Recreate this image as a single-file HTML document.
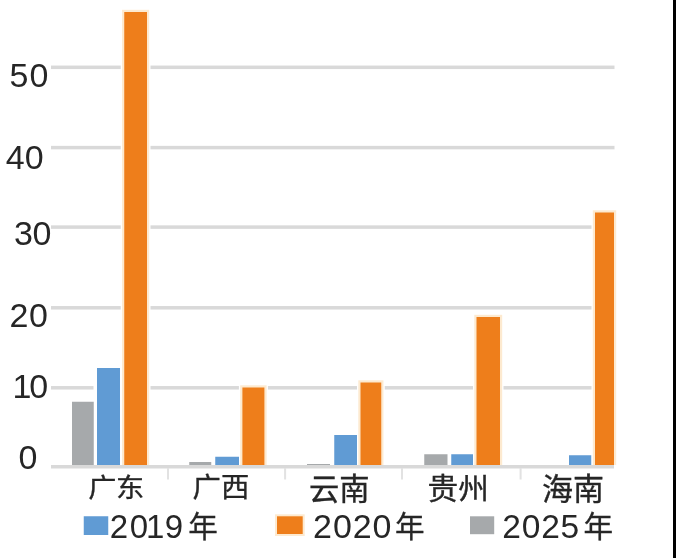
<!DOCTYPE html><html><head><meta charset="utf-8"><title>chart</title><style>
html,body{margin:0;padding:0;background:#fff}body{width:676px;height:558px;overflow:hidden;position:relative}svg{position:absolute;left:0;top:0;display:block}
.n{font-family:"Liberation Sans",sans-serif;font-size:34px;fill:#262626;letter-spacing:1.6px}
.c{font-family:"Liberation Sans","Noto Sans CJK SC",sans-serif;font-size:29px;fill:#262626;stroke:#262626;stroke-width:0.35px}
.l{font-family:"Liberation Sans","Noto Sans CJK SC",sans-serif;font-size:33px;fill:#262626;letter-spacing:1.6px}
.y{font-family:"Liberation Sans","Noto Sans CJK SC",sans-serif;font-size:29.6px;fill:#262626;stroke:#262626;stroke-width:0.3px}
</style></head><body>
<svg width="676" height="558" viewBox="0 0 676 558">
<rect x="0" y="0" width="676" height="558" fill="#fff"/>
<rect x="51" y="65.55" width="563.5" height="3.5" fill="#d9d9d9"/>
<rect x="51" y="145.85" width="563.5" height="3.5" fill="#d9d9d9"/>
<rect x="51" y="225.35" width="563.5" height="3.5" fill="#d9d9d9"/>
<rect x="51" y="306.05" width="563.5" height="3.5" fill="#d9d9d9"/>
<rect x="51" y="386.05" width="563.5" height="3.5" fill="#d9d9d9"/>
<rect x="68.50" y="398.25" width="28.75" height="66.75" fill="#fff"/>
<rect x="93.50" y="364.50" width="30.00" height="100.50" fill="#fff"/>
<rect x="120.75" y="8.50" width="29.75" height="456.50" fill="#fff"/>
<rect x="211.75" y="453.25" width="30.75" height="11.75" fill="#fff"/>
<rect x="238.90" y="384.00" width="29.00" height="81.00" fill="#fff"/>
<rect x="330.75" y="431.50" width="29.75" height="33.50" fill="#fff"/>
<rect x="357.00" y="379.00" width="27.75" height="86.00" fill="#fff"/>
<rect x="420.75" y="450.75" width="30.25" height="14.25" fill="#fff"/>
<rect x="447.75" y="450.75" width="28.75" height="14.25" fill="#fff"/>
<rect x="473.00" y="313.50" width="30.50" height="151.50" fill="#fff"/>
<rect x="565.50" y="451.75" width="29.25" height="13.25" fill="#fff"/>
<rect x="591.50" y="209.00" width="26.00" height="256.00" fill="#fff"/>
<rect x="51" y="465" width="563" height="3.5" fill="#d9d9d9"/>
<rect x="167.00" y="468" width="2" height="11.5" fill="#e2e2e2"/>
<rect x="284.10" y="468" width="2" height="11.5" fill="#e2e2e2"/>
<rect x="401.00" y="468" width="2" height="11.5" fill="#e2e2e2"/>
<rect x="519.60" y="468" width="2" height="11.5" fill="#e2e2e2"/>
<rect x="72.00" y="401.75" width="21.75" height="63.25" fill="#a6a9ab"/>
<rect x="97.00" y="368.00" width="23.00" height="97.00" fill="#609bd4"/>
<rect x="122.05" y="9.80" width="27.15" height="455.20" fill="#fdead0"/>
<rect x="124.25" y="12.00" width="22.75" height="453.00" fill="#ee7e1b"/>
<rect x="189.25" y="462.00" width="22.00" height="3.00" fill="#a6a9ab"/>
<rect x="215.25" y="456.75" width="23.75" height="8.25" fill="#609bd4"/>
<rect x="240.20" y="385.30" width="26.40" height="79.70" fill="#fdead0"/>
<rect x="242.40" y="387.50" width="22.00" height="77.50" fill="#ee7e1b"/>
<rect x="307.00" y="464.00" width="23.00" height="1.00" fill="#a6a9ab"/>
<rect x="334.25" y="435.00" width="22.75" height="30.00" fill="#609bd4"/>
<rect x="358.30" y="380.30" width="25.15" height="84.70" fill="#fdead0"/>
<rect x="360.50" y="382.50" width="20.75" height="82.50" fill="#ee7e1b"/>
<rect x="424.25" y="454.25" width="23.25" height="10.75" fill="#a6a9ab"/>
<rect x="451.25" y="454.25" width="21.75" height="10.75" fill="#609bd4"/>
<rect x="474.30" y="314.80" width="27.90" height="150.20" fill="#fdead0"/>
<rect x="476.50" y="317.00" width="23.50" height="148.00" fill="#ee7e1b"/>
<rect x="569.00" y="455.25" width="22.25" height="9.75" fill="#609bd4"/>
<rect x="592.80" y="210.30" width="23.40" height="254.70" fill="#fdead0"/>
<rect x="595.00" y="212.50" width="19.00" height="252.50" fill="#ee7e1b"/>
<rect x="673" y="0" width="3" height="558" fill="#000"/>
<text class="n" style="letter-spacing:1.10px" x="9.50" y="87.00">50</text>
<text class="n" style="letter-spacing:0.10px" x="5.75" y="169.25">40</text>
<text class="n" style="letter-spacing:-0.40px" x="14.00" y="244.75">30</text>
<text class="n" style="letter-spacing:0.60px" x="9.50" y="326.50">20</text>
<text class="n" style="letter-spacing:-2.10px" x="12.50" y="397.75">10</text>
<text class="n" style="letter-spacing:0.00px" x="18.40" y="468.90">0</text>
<text class="c" style="font-size:28.2px;letter-spacing:-0.40px" transform="translate(88.30 496.90) scale(1 0.925)">广东</text>
<text class="c" style="font-size:28.4px;letter-spacing:0.00px" transform="translate(192.60 497.30) scale(1 0.950)">广西</text>
<text class="c" style="font-size:30.3px;letter-spacing:0.00px" transform="translate(308.90 499.50) scale(1 1.000)">云南</text>
<text class="c" style="font-size:30.7px;letter-spacing:0.00px" transform="translate(427.60 498.90) scale(1 0.955)">贵州</text>
<text class="c" style="font-size:31.0px;letter-spacing:0.00px" transform="translate(542.10 500.00) scale(1 1.000)">海南</text>
<rect x="83.75" y="516.25" width="24.50" height="18.75" fill="#609bd4"/>
<text class="l" style="font-size:33.0px;letter-spacing:1.60px" x="109.70" y="538.00">20<tspan dx="-3.5">1</tspan><tspan dx="-1.2">9</tspan></text>
<text class="y" x="188.20" y="537.00">年</text>
<rect x="275.00" y="514.30" width="29.70" height="21.70" fill="#fdead0"/>
<rect x="277.00" y="516.30" width="25.70" height="17.70" fill="#ee7e1b"/>
<text class="l" style="font-size:34.0px;letter-spacing:0.90px" x="313.10" y="538.00">2020</text>
<text class="y" x="395.10" y="537.00">年</text>
<rect x="470.00" y="516.30" width="24.20" height="17.90" fill="#a6a9ab"/>
<text class="l" style="font-size:33.5px;letter-spacing:0.80px" x="502.30" y="538.00">2025</text>
<text class="y" x="583.60" y="537.00">年</text>
</svg></body></html>
